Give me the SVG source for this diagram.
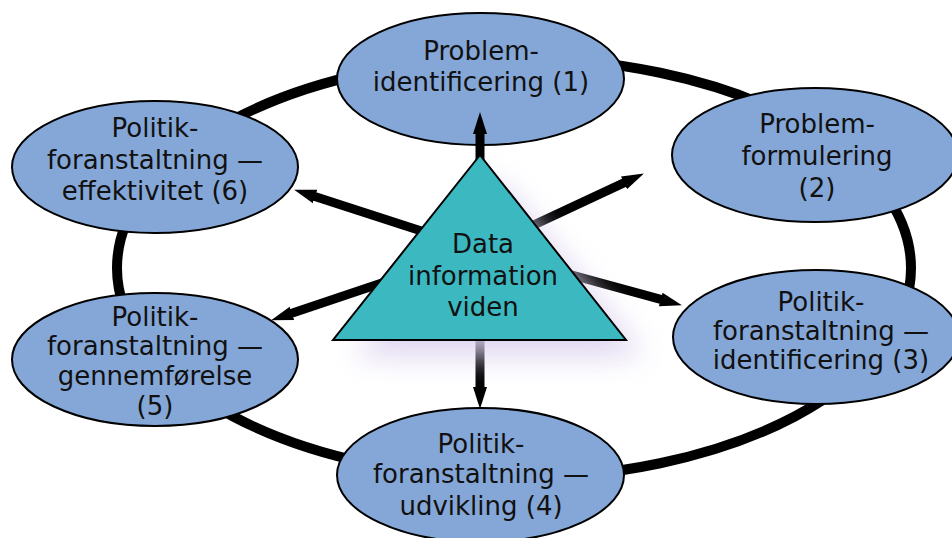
<svg xmlns="http://www.w3.org/2000/svg" width="952" height="538" viewBox="0 0 952 538">
<style>
.node{fill:#85A7D7;stroke:#000;stroke-width:2}
.lbl{font-family:"DejaVu Sans","Verdana",sans-serif;font-size:26px;fill:#111;text-anchor:middle}
.ring{fill:none;stroke:#000;stroke-width:10}
.arr{stroke:#000;stroke-width:9;fill:none;marker-end:url(#ah)}
</style>
<defs>
<marker id="ah" markerUnits="userSpaceOnUse" markerWidth="26" markerHeight="16" viewBox="0 -8 26 16" refX="1" refY="0" orient="auto">
<path d="M0,-7 L22,0 L0,7 Z" fill="#000"/>
</marker>
<filter id="blur" x="-50%" y="-50%" width="200%" height="200%">
<feGaussianBlur stdDeviation="15"/>
</filter>
</defs>
<rect width="952" height="538" fill="#fff"/>
<g id="connectors">
<ellipse class="ring" cx="514" cy="268" rx="397" ry="210"/>
</g>
<g id="node1"><ellipse class="node" cx="480.5" cy="79" rx="143.5" ry="66"/>
<text class="lbl" x="481" y="60">Problem-</text><text class="lbl" x="481" y="91">identificering (1)</text></g>
<g id="node2"><ellipse class="node" cx="815" cy="155" rx="143" ry="67"/>
<text class="lbl" x="817" y="133">Problem-</text><text class="lbl" x="817" y="165">formulering</text><text class="lbl" x="817" y="197">(2)</text></g>
<g id="node3"><ellipse class="node" cx="816" cy="337" rx="143" ry="67"/>
<text class="lbl" x="821" y="311">Politik-</text><text class="lbl" x="821" y="340">foranstaltning —</text><text class="lbl" x="821" y="369">identificering (3)</text></g>
<g id="node4"><ellipse class="node" cx="480.5" cy="475" rx="143.5" ry="67"/>
<text class="lbl" x="481" y="453">Politik-</text><text class="lbl" x="481" y="483">foranstaltning —</text><text class="lbl" x="481" y="515">udvikling (4)</text></g>
<g id="node5"><ellipse class="node" cx="155" cy="359.5" rx="143" ry="66.5"/>
<text class="lbl" x="155" y="326">Politik-</text><text class="lbl" x="155" y="355">foranstaltning —</text><text class="lbl" x="155" y="385">gennemførelse</text><text class="lbl" x="155" y="415">(5)</text></g>
<g id="node6"><ellipse class="node" cx="155" cy="167" rx="143" ry="66"/>
<text class="lbl" x="155" y="137">Politik-</text><text class="lbl" x="155" y="169">foranstaltning —</text><text class="lbl" x="155" y="200">effektivitet (6)</text></g>
<g id="arrows">
<line class="arr" x1="480" y1="250" x2="480" y2="133"/>
<line class="arr" x1="480" y1="250" x2="480" y2="388"/>
<line class="arr" x1="480" y1="250" x2="624.9" y2="182.4"/>
<line class="arr" x1="480" y1="250" x2="661.7" y2="299.7"/>
<line class="arr" x1="480" y1="250" x2="314.1" y2="196.2"/>
<line class="arr" x1="480" y1="250" x2="291" y2="313.6"/>
</g>
<g id="glow">
<polygon points="496,178 354,356 644,356" fill="#ddd3ef" opacity="0.95" filter="url(#blur)"/>
</g>
<g id="center">
<polygon points="480,155 333,340 626,340" fill="#3CB8C1" stroke="#000" stroke-width="2" stroke-linejoin="miter"/>
<text class="lbl" x="483" y="253">Data</text><text class="lbl" x="483" y="285">information</text><text class="lbl" x="483" y="316">viden</text>
</g>
</svg>
